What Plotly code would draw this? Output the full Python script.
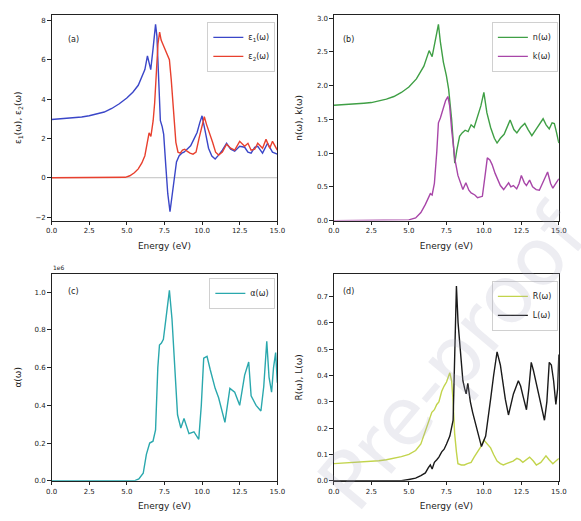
import plotly.graph_objects as go

# ---------------- data ----------------
eps1_x = [0, 1.0, 2.0, 2.5, 3.0, 3.5, 4.0, 4.5, 5.0, 5.4, 5.76, 6.0, 6.2, 6.37, 6.5, 6.59, 6.75, 6.91,
          7.0, 7.1, 7.23, 7.35, 7.45, 7.6, 7.72, 7.87, 8.0, 8.15, 8.3, 8.48, 8.65, 8.8, 9.0, 9.24, 9.45,
          9.67, 9.85, 10.0, 10.2, 10.43, 10.65, 10.87, 11.1, 11.35, 11.63, 11.9, 12.17, 12.5, 12.83,
          13.05, 13.26, 13.5, 13.7, 14.02, 14.35, 14.68, 15.0]
eps1_y = [2.96, 3.01, 3.09, 3.15, 3.24, 3.34, 3.52, 3.76, 4.05, 4.35, 4.7, 5.1, 5.5, 6.2, 5.85, 5.5, 6.6, 7.8,
          7.2, 5.0, 2.9, 2.6, 2.2, 0.5, -0.8, -1.72, -0.9, 0.1, 0.8, 1.12, 1.25, 1.3, 1.45, 1.62, 1.95,
          2.3, 2.8, 3.15, 2.4, 1.5, 1.1, 0.95, 1.15, 1.4, 1.75, 1.45, 1.35, 1.6, 1.55,
          1.3, 1.25, 1.55, 1.6, 1.25, 1.75, 1.3, 1.2]

eps2_x = [0, 4.5, 4.9, 5.2, 5.5, 5.76, 6.0, 6.2, 6.35, 6.48, 6.6, 6.75, 6.85, 6.95, 7.07, 7.18, 7.28, 7.39,
          7.5, 7.6, 7.72, 7.83, 7.95, 8.05, 8.15, 8.26, 8.4, 8.55, 8.7, 8.85, 9.0, 9.2, 9.4, 9.6, 9.8,
          10.0, 10.15, 10.3, 10.5, 10.7, 10.9, 11.1, 11.35, 11.63, 11.9, 12.17, 12.5, 12.83, 13.05,
          13.26, 13.5, 13.7, 14.02, 14.25, 14.5, 14.68, 15.0]
eps2_y = [0, 0, 0.02, 0.1, 0.25, 0.45, 0.75, 1.12, 1.7, 2.28, 2.1, 2.9, 3.8, 5.3, 6.8, 7.4, 7.0, 6.8,
          6.6, 6.4, 6.2, 6.0, 5.0, 3.8, 2.6, 1.8, 1.3, 1.25, 1.4, 1.45, 1.35, 1.25, 1.2, 1.3, 2.0,
          2.7, 3.1, 2.7, 2.3, 1.8, 1.3, 1.15, 1.3, 1.7, 1.5, 1.4, 1.85, 1.6, 1.75,
          1.4, 1.45, 1.75, 1.5, 1.95, 1.5, 1.85, 1.4]

n_x = [0, 1.0, 2.0, 2.5, 3.0, 3.5, 4.0, 4.5, 5.0, 5.5, 6.0, 6.2, 6.35, 6.55, 6.75, 6.97, 7.1, 7.3, 7.5,
       7.65, 7.85, 7.95, 8.06, 8.2, 8.38, 8.55, 8.75, 8.95, 9.15, 9.35, 9.6, 9.8, 10.0, 10.2, 10.45,
       10.7, 10.88, 11.1, 11.35, 11.6, 11.75, 12.0, 12.2, 12.45, 12.73, 12.95, 13.2, 13.5, 13.75,
       13.95, 14.15, 14.36, 14.55, 14.7, 14.85, 15.0]
n_y = [1.71, 1.72, 1.74, 1.75, 1.77, 1.80, 1.84, 1.90, 1.98, 2.10, 2.29, 2.42, 2.52, 2.43, 2.65, 2.91, 2.65,
       2.35, 2.15, 1.95, 1.5, 1.1, 0.85, 1.05, 1.25, 1.3, 1.34, 1.32, 1.42, 1.38, 1.56, 1.7, 1.9, 1.6,
       1.38, 1.22, 1.15, 1.22, 1.28, 1.4, 1.49, 1.35, 1.3, 1.38, 1.44, 1.35, 1.26, 1.36, 1.45,
       1.51, 1.42, 1.36, 1.45, 1.44, 1.3, 1.15]

k_x = [0, 4.5, 5.0, 5.45, 5.8, 6.1, 6.3, 6.43, 6.55, 6.7, 6.86, 6.97, 7.1, 7.29, 7.45, 7.6, 7.72, 7.85,
       7.95, 8.06, 8.27, 8.45, 8.6, 8.8, 9.0, 9.15, 9.4, 9.58, 9.9, 10.1, 10.23, 10.4, 10.55, 10.75,
       10.88, 11.1, 11.32, 11.5, 11.65, 11.8, 11.97, 12.19, 12.35, 12.5, 12.7, 12.84, 13.05, 13.25,
       13.49, 13.7, 13.95, 14.25, 14.45, 14.6, 14.8, 15.0]
k_y = [0, 0, 0.01, 0.04, 0.12, 0.24, 0.34, 0.4, 0.38, 0.55, 1.02, 1.45, 1.52, 1.67, 1.78, 1.84, 1.7, 1.35,
       1.1, 0.92, 0.67, 0.55, 0.46, 0.56, 0.45, 0.41, 0.38, 0.34, 0.36, 0.7, 0.93, 0.9, 0.83, 0.7,
       0.63, 0.52, 0.46, 0.52, 0.56, 0.5, 0.52, 0.47, 0.55, 0.67, 0.56, 0.52, 0.6, 0.5,
       0.46, 0.45, 0.58, 0.72, 0.55, 0.48, 0.55, 0.62]

alpha_x = [0, 5.0, 5.5, 5.8, 6.09, 6.3, 6.52, 6.74, 6.91, 7.06, 7.17, 7.3, 7.43, 7.6, 7.83, 8.0, 8.15,
           8.37, 8.59, 8.8, 9.13, 9.46, 9.78, 9.95, 10.11, 10.33, 10.54, 10.87, 11.1, 11.3, 11.52,
           11.85, 12.0, 12.17, 12.5, 12.83, 13.1, 13.26, 13.59, 13.91, 14.1, 14.3, 14.45, 14.62,
           14.75, 14.89, 15.0]
alpha_y = [0, 0, 0.0, 0.01, 0.04, 0.14, 0.2, 0.21, 0.27, 0.6, 0.72, 0.73, 0.75, 0.86, 1.01, 0.86, 0.65,
           0.35, 0.28, 0.33, 0.25, 0.26, 0.22, 0.4, 0.65, 0.66, 0.59, 0.49, 0.44, 0.38, 0.31,
           0.49, 0.48, 0.47, 0.40, 0.56, 0.63, 0.45, 0.40, 0.37, 0.5, 0.74, 0.55, 0.47,
           0.6, 0.68, 0.52]

R_x = [0, 1, 2, 3, 3.5, 4, 4.5, 5.0, 5.45, 5.8, 6.1, 6.3, 6.53, 6.7, 6.86, 7.0, 7.19, 7.35, 7.51, 7.73,
       7.85, 7.95, 8.05, 8.17, 8.27, 8.5, 8.7, 8.9, 9.15, 9.35, 9.58, 9.8, 10.0, 10.2, 10.45, 10.65,
       10.88, 11.1, 11.3, 11.5, 11.75, 11.95, 12.2, 12.4, 12.6, 12.85, 13.05, 13.3, 13.5, 13.8,
       14.14, 14.35, 14.6, 14.8, 15.0]
R_y = [0.065, 0.068, 0.071, 0.076, 0.08, 0.085, 0.092, 0.10, 0.115, 0.14, 0.19, 0.22, 0.26, 0.27, 0.29,
       0.3, 0.34, 0.36, 0.375, 0.41, 0.38, 0.3, 0.18, 0.11, 0.065, 0.06, 0.06, 0.065, 0.07, 0.09,
       0.11, 0.13, 0.155, 0.14, 0.125, 0.1, 0.075, 0.065, 0.06, 0.065, 0.07, 0.075, 0.085, 0.08,
       0.07, 0.08, 0.09, 0.075, 0.06, 0.07, 0.095, 0.08, 0.065, 0.075, 0.085]

L_x = [0, 4.5, 5.0, 5.45, 5.8, 6.1, 6.3, 6.43, 6.55, 6.7, 6.86, 7.0, 7.19, 7.35, 7.51, 7.73, 7.95, 8.06,
       8.17, 8.28, 8.38, 8.5, 8.6, 8.72, 8.82, 8.93, 9.1, 9.25, 9.42, 9.58, 9.84, 10.12, 10.3, 10.45,
       10.65, 10.88, 11.1, 11.25, 11.43, 11.64, 11.8, 11.97, 12.3, 12.45, 12.62, 12.84, 13.0, 13.16,
       13.3, 13.49, 13.7, 13.9, 14.04, 14.2, 14.36, 14.5, 14.65, 14.8, 14.92, 15.0]
L_y = [0, 0, 0.005, 0.01, 0.02, 0.03, 0.05, 0.06, 0.045, 0.07, 0.08, 0.09, 0.11, 0.12, 0.14, 0.17, 0.23,
       0.45, 0.74, 0.6, 0.52, 0.43, 0.38, 0.35, 0.33, 0.37, 0.3, 0.26, 0.22, 0.18, 0.13, 0.17, 0.24,
       0.31, 0.4, 0.49, 0.44, 0.38, 0.31, 0.25, 0.29, 0.33, 0.38, 0.36, 0.32, 0.27, 0.35, 0.45,
       0.42, 0.37, 0.31, 0.26, 0.23, 0.3, 0.45, 0.44, 0.38, 0.29, 0.35, 0.48]

x_ticks = [0, 2.5, 5.0, 7.5, 10.0, 12.5, 15.0]
panel_labels = ["(a)", "(b)", "(c)", "(d)"]
y_titles = ["ε<sub>1</sub>(ω), ε<sub>2</sub>(ω)", "n(ω), k(ω)", "α(ω)", "R(ω), L(ω)"]
x_title = "Energy (eV)"

# ---------------- layout geometry ----------------
W, H = 581, 521
FONT = "DejaVu Sans"
def dx(l, r):
    return [l / W, r / W]
def dy(t, b):
    return [1 - b / H, 1 - t / H]

colL, colR = (46.7, 278.0), (336.0, 566.5)
rowT, rowB = (15.0, 222.3), (276.0, 484.5)

fig = go.Figure()
lw = 1.4
fig.add_trace(go.Scatter(x=eps1_x, y=eps1_y, mode="lines", name="ε<sub>1</sub>(ω)",
                         line=dict(color="#3a46c8", width=lw), xaxis="x", yaxis="y", legend="legend"))
fig.add_trace(go.Scatter(x=eps2_x, y=eps2_y, mode="lines", name="ε<sub>2</sub>(ω)",
                         line=dict(color="#e8402e", width=lw), xaxis="x", yaxis="y", legend="legend"))
fig.add_trace(go.Scatter(x=n_x, y=n_y, mode="lines", name="n(ω)",
                         line=dict(color="#3f9f45", width=lw), xaxis="x2", yaxis="y2", legend="legend2"))
fig.add_trace(go.Scatter(x=k_x, y=k_y, mode="lines", name="k(ω)",
                         line=dict(color="#a846a8", width=lw), xaxis="x2", yaxis="y2", legend="legend2"))
fig.add_trace(go.Scatter(x=alpha_x, y=alpha_y, mode="lines", name="α(ω)",
                         line=dict(color="#2aa8ad", width=lw), xaxis="x3", yaxis="y3", legend="legend3"))
fig.add_trace(go.Scatter(x=R_x, y=R_y, mode="lines", name="R(ω)",
                         line=dict(color="#c2d44c", width=lw), xaxis="x4", yaxis="y4", legend="legend4"))
fig.add_trace(go.Scatter(x=L_x, y=L_y, mode="lines", name="L(ω)",
                         line=dict(color="#1a1a1a", width=lw), xaxis="x4", yaxis="y4", legend="legend4"))

axis_common = dict(showline=True, linecolor="#222", linewidth=0.9, mirror=True, ticks="outside",
                   ticklen=3.5, tickwidth=0.8, tickcolor="#222", showgrid=False, zeroline=False,
                   tickfont=dict(family=FONT, size=7, color="#222"))
title_font = dict(family=FONT, size=9, color="#222")

def xaxis(dom, anchor):
    return dict(domain=dom, anchor=anchor, range=[0, 15], tickvals=x_ticks,
                ticktext=[f"{v:.1f}" for v in x_ticks],
                title=dict(text=x_title, standoff=8, font=title_font),
                **axis_common)

def yaxis(dom, anchor, rng, ticks, title, standoff, fmt=None):
    d = dict(domain=dom, anchor=anchor, range=rng, tickvals=ticks,
             title=dict(text=title, standoff=standoff, font=title_font), **axis_common)
    if fmt:
        d["tickformat"] = fmt
    return d

fig.update_layout(
    width=W, height=H, margin=dict(l=0, r=0, t=0, b=0),
    paper_bgcolor="white", plot_bgcolor="white",
    font=dict(family=FONT, size=8, color="#222"),
    xaxis=xaxis(dx(*colL), "y"),
    xaxis2=xaxis(dx(*colR), "y2"),
    xaxis3=xaxis(dx(*colL), "y3"),
    xaxis4=xaxis(dx(*colR), "y4"),
    yaxis=yaxis(dy(*rowT), "x", [-2.18, 8.28], [-2, 0, 2, 4, 6, 8], y_titles[0], 12),
    yaxis2=yaxis(dy(*rowT), "x2", [0, 3.05], [0, 0.5, 1, 1.5, 2, 2.5, 3], y_titles[1], 12, ".1f"),
    yaxis3=yaxis(dy(*rowB), "x3", [0, 1.097], [0, 0.2, 0.4, 0.6, 0.8, 1.0], y_titles[2], 11, ".1f"),
    yaxis4=yaxis(dy(*rowB), "x4", [0, 0.786], [0, 0.1, 0.2, 0.3, 0.4, 0.5, 0.6, 0.7], y_titles[3], 12, ".1f"),
)

def legend_at(xr, yt):
    return dict(x=xr / W, y=1 - yt / H, xanchor="right", yanchor="top", bgcolor="rgba(255,255,255,0.85)",
                bordercolor="#d0d0d0", borderwidth=1, font=dict(family=FONT, size=8, color="#222"),
                itemwidth=30, tracegroupgap=0)

fig.update_layout(legend=legend_at(276, 22), legend2=legend_at(565.5, 22),
                  legend3=legend_at(276, 280), legend4=legend_at(565.5, 283))

# zero reference line in panel (a)
fig.add_shape(type="line", xref="x domain", yref="y", x0=0, x1=1, y0=0, y1=0,
              line=dict(color="#b0b0b0", width=0.8), layer="below")

ann = []
# panel letters
for txt, (px, py) in zip(panel_labels, [(61, 33), (351, 33), (61, 294), (351, 294)]):
    ann.append(dict(text=txt, x=px / W, y=1 - py / H, xref="paper", yref="paper", showarrow=False,
                    font=dict(family=FONT, size=8, color="#222")))
# offset text of alpha axis
ann.append(dict(text="1e6", x=46 / W, y=1 - 270 / H, xref="paper", yref="paper", showarrow=False,
                xanchor="left", font=dict(family=FONT, size=6, color="#222")))
# faint watermark
ann.append(dict(text="Pre-proof", x=458 / W, y=1 - 360 / H, xref="paper", yref="paper",
                xanchor="center", yanchor="middle", showarrow=False, textangle=-50,
                font=dict(family=FONT, size=80, color="rgba(165,165,190,0.2)")))
fig.update_layout(annotations=ann)

fig.write_html("out.html")
